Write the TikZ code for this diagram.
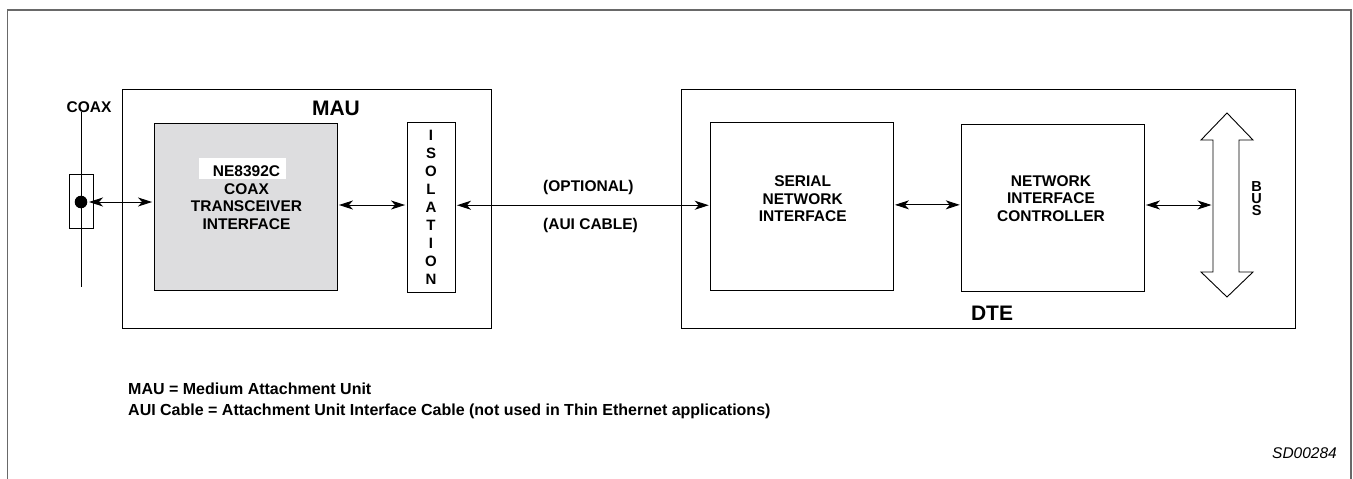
\documentclass[tikz,border=0pt]{standalone}
\usepackage{fontspec}
\setmainfont{Liberation Sans}
\usetikzlibrary{arrows.meta}
\definecolor{chipgray}{RGB}{221,221,223}
\definecolor{framegray}{RGB}{105,105,105}
\begin{document}
\begin{tikzpicture}[x=1pt,y=-1pt,
  >={Stealth[length=14pt,width=9pt,inset=4pt]},
  box/.style={draw, line width=0.9pt, inner sep=0pt},
  txt/.style={font=\fontsize{15.5}{17.6}\selectfont\bfseries, align=center, inner sep=0pt},
  big/.style={font=\fontsize{21}{24}\selectfont\bfseries, inner sep=0pt},
  keytxt/.style={font=\fontsize{16}{20}\selectfont\bfseries, anchor=base west, inner sep=0pt},
  link/.style={<->, line width=0.9pt, shorten >=1.5pt, shorten <=1.5pt}]
\useasboundingbox (0,0) rectangle (1353,479);
\draw[framegray, line width=1.2pt] (7.5,479) -- (7.5,10) -- (1351,10) -- (1351,479);

\node[txt] (coaxlbl) at (89,107.5) {COAX};
\draw[line width=0.9pt] (81,112) -- (81,287);
\node[box, minimum width=24pt, minimum height=54pt] (tap) at (81.3,201) {};
\node[circle, fill, inner sep=0pt, minimum size=12.6pt] (dot) at (81,202) {};

\node[box, minimum width=369pt, minimum height=239pt] (mau) at (306.5,208.5) {};
\node[big] (maulbl) at (336,108) {MAU};
\node[box, fill=chipgray, minimum width=183pt, minimum height=167pt] (chip) at (245.5,207) {};
\node[fill=white, inner sep=0pt, minimum width=87pt, minimum height=21pt] (chipid) at (242.5,168.5) {};
\node[txt] (chiptxt) at (246.5,197.5) {NE8392C\\COAX\\TRANSCEIVER\\INTERFACE};
\node[box, minimum width=48pt, minimum height=169.5pt, align=center,
  font=\fontsize{15}{17.9}\selectfont\bfseries] (iso) at (431,207.25) {I\\S\\O\\L\\A\\T\\I\\O\\N};

\node[box, minimum width=614pt, minimum height=239pt] (dte) at (988,208.5) {};
\node[big] (dtelbl) at (992,313) {DTE};
\node[box, minimum width=182.3pt, minimum height=167.3pt] (sni) at (801.85,206.35) {};
\node[txt] (snitxt) at (802.7,198.9) {SERIAL\\NETWORK\\INTERFACE};
\node[box, minimum width=182.3pt, minimum height=167pt] (nic) at (1052.85,207.5) {};
\node[txt] (nictxt) at (1051,198.5) {NETWORK\\INTERFACE\\CONTROLLER};

\draw[line width=0.9pt, fill=white] (1227,113) -- (1253,140) -- (1239,140) -- (1239,272)
  -- (1253,272) -- (1227,297) -- (1201,272) -- (1213,272) -- (1213,140) -- (1201,140) -- cycle;
\coordinate (bus) at (1213,205);
\node[txt, font=\fontsize{14.5}{12}\selectfont\bfseries] (buslbl) at (1256.7,198.4) {B\\U\\S};

\draw[link] (dot) -- (dot -| chip.west);
\draw[link] ([yshift=2pt]chip.east) -- ([yshift=2pt]chip.east -| iso.west);
\draw[link] ([yshift=2pt]iso.east) -- ([yshift=2pt]iso.east -| sni.west);
\draw[link] ([yshift=1.5pt]sni.east) -- ([yshift=1.5pt]sni.east -| nic.west);
\draw[link] (nic.east |- bus) -- (bus);

\node[txt, anchor=west] (optlbl) at (543,187) {(OPTIONAL)};
\node[txt, anchor=west] (auilbl) at (543,225.4) {(AUI CABLE)};

\node[keytxt] (key1) at (128,394.5) {MAU = Medium Attachment Unit};
\node[keytxt] (key2) at (128,415) {AUI Cable = Attachment Unit Interface Cable (not used in Thin Ethernet applications)};
\node[font=\fontsize{15.5}{18}\selectfont\itshape, anchor=base east, inner sep=0pt] (sdnum) at (1337,458) {SD00284};
\end{tikzpicture}
\end{document}
